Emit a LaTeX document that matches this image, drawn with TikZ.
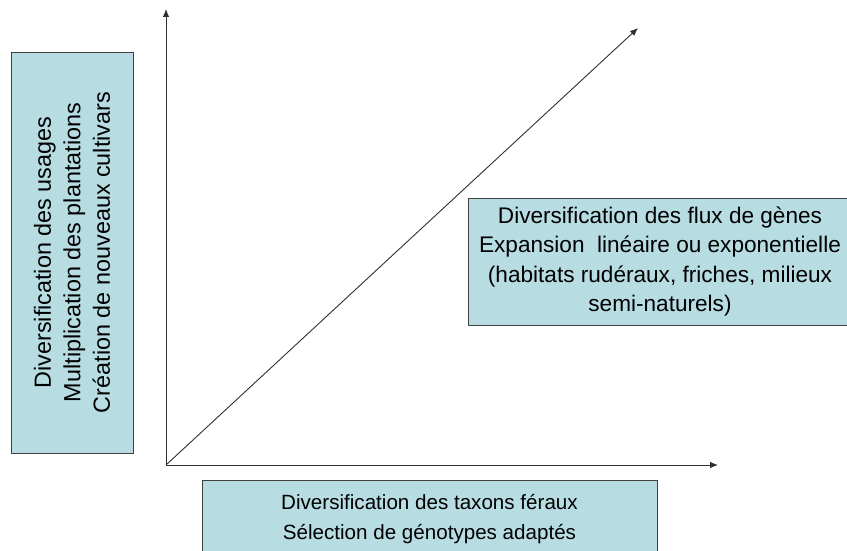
\documentclass[tikz,border=0pt]{standalone}
\usepackage{fontspec}
\setmainfont{Liberation Sans}
\usetikzlibrary{arrows.meta,positioning}
\definecolor{box-color}{HTML}{B7DDE3}
\definecolor{axis-color}{HTML}{303030}

\begin{document}
\begin{tikzpicture}[x=1pt, y=-1pt, >={Latex[length=8pt,width=6.5pt]},
                every node/.append style={align=center},
                box/.style={draw=black!75, fill=box-color, inner sep=0pt},
                axis/.style={draw=axis-color, line width=0.9pt}]
    \clip (0,0) rectangle (847,551);
    \fill[white] (0,0) rectangle (847,551);

    % axes
    \coordinate (O) at (166,465);
    \coordinate (ytop) at (166,9);
    \coordinate (xend) at (718,465);
    \coordinate (diag) at (638,28);
    \draw[axis,->] (O) -- (ytop);
    \draw[axis,->] (O) -- (xend);
    \draw[axis,->] (O) -- (diag);

    % boxes
    \node [box, rotate=90, minimum width=401, minimum height=122,
           font=\fontsize{23.4}{29.5}\selectfont] (use) at (72,252.5)
          {Diversification des usages\\Multiplication des plantations\\Création de nouveaux cultivars};
    \node [box, minimum width=384, minimum height=127,
           font=\fontsize{22.6}{29.3}\selectfont] (flux) at (660,261.5)
          {Diversification des flux de gènes\\Expansion\ \ linéaire ou exponentielle\\(habitats rudéraux, friches, milieux\\semi-naturels)};
    \node [box, minimum width=455, minimum height=78,
           font=\fontsize{20.6}{30}\selectfont] (taxa) at (429.5,519)
          {Diversification des taxons féraux\\Sélection de génotypes adaptés};
\end{tikzpicture}
\end{document}
